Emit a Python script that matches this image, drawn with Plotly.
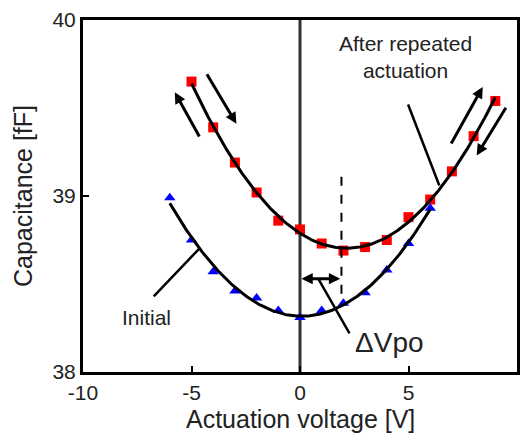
import numpy as np
import plotly.graph_objects as go

# Data
red_x = [-5, -4, -3, -2, -1, 0, 1, 2, 3, 4, 5, 6, 7, 8, 9]
red_y = [39.65, 39.39, 39.19, 39.02, 38.86, 38.81, 38.73, 38.69, 38.71, 38.75,
         38.88, 38.98, 39.14, 39.34, 39.54]
blue_x = [-6, -5, -4, -3, -2, -1, 0, 1, 2, 3, 4, 5, 6]
blue_y = [38.99, 38.75, 38.57, 38.46, 38.42, 38.35, 38.31, 38.35, 38.39, 38.45,
          38.58, 38.73, 38.93]

x_ticks = [-10, -5, 0, 5, 10]
y_ticks = [38, 39, 40]

FONT = "Arial, Liberation Sans, sans-serif"

# quadratic fits of the measured points
red_fit = np.polyfit(red_x, red_y, 2)
blue_fit = np.polyfit(blue_x, blue_y, 2)
red_fx = np.linspace(min(red_x), max(red_x), 200)
blue_fx = np.linspace(min(blue_x), max(blue_x), 200)

fig = go.Figure()
fig.add_trace(go.Scatter(x=red_x, y=red_y, mode="markers",
                         marker=dict(symbol="square", size=10, color="#ff0000"),
                         showlegend=False))
fig.add_trace(go.Scatter(x=blue_x, y=blue_y, mode="markers",
                         marker=dict(symbol="triangle-up", size=10, color="#0000ff"),
                         showlegend=False))
fig.add_trace(go.Scatter(x=red_fx, y=np.polyval(red_fit, red_fx), mode="lines",
                         line=dict(color="black", width=3), showlegend=False))
fig.add_trace(go.Scatter(x=blue_fx, y=np.polyval(blue_fit, blue_fx), mode="lines",
                         line=dict(color="black", width=3), showlegend=False))

shapes = [
    dict(type="line", x0=0, x1=0, y0=38, y1=40, xref="x", yref="y",
         line=dict(color="#333333", width=3), layer="below"),
    dict(type="line", x0=1.91, x1=1.91, y0=39.11, y1=38.39, xref="x", yref="y",
         line=dict(color="black", width=2, dash="dash")),
    # leader lines
    dict(type="line", x0=4.98, y0=39.52, x1=6.42, y1=39.06, xref="x", yref="y",
         line=dict(color="black", width=2.5)),
    dict(type="line", x0=-6.74, y0=38.43, x1=-4.65, y1=38.70, xref="x", yref="y",
         line=dict(color="black", width=2.5)),
    dict(type="line", x0=0.84, y0=38.53, x1=2.28, y1=38.22, xref="x", yref="y",
         line=dict(color="black", width=2.5)),
]

def arrow(tx, ty, hx, hy, side="end"):
    return dict(x=hx, y=hy, ax=tx, ay=ty, xref="x", yref="y", axref="x", ayref="y",
                text="", showarrow=True, arrowhead=2, arrowsize=0.75, arrowwidth=3,
                arrowcolor="black", arrowside=side)

annotations = [
    arrow(-4.6, 39.33, -5.77, 39.59),
    arrow(-4.33, 39.70, -2.93, 39.41),
    arrow(6.93, 39.29, 8.42, 39.62),
    arrow(9.53, 39.51, 8.14, 39.23),
    arrow(0.0, 38.53, 1.85, 38.53, side="end+start"),
    dict(x=4.85, y=39.79, xref="x", yref="y", text="After repeated<br>actuation",
         showarrow=False, font=dict(family=FONT, size=21, color="#222222"),
         xanchor="center", yanchor="middle"),
    dict(x=-7.07, y=38.31, xref="x", yref="y", text="Initial", showarrow=False,
         font=dict(family=FONT, size=21, color="#222222"),
         xanchor="center", yanchor="middle"),
    dict(x=4.14, y=38.17, xref="x", yref="y", text="ΔVpo", showarrow=False,
         font=dict(family=FONT, size=28, color="#222222"),
         xanchor="center", yanchor="middle"),
    dict(x=0, y=0.5, xref="paper", yref="paper", xshift=-60, text="Capacitance [fF]",
         textangle=-90, showarrow=False, xanchor="center", yanchor="middle",
         font=dict(family=FONT, size=25, color="#222222")),
    dict(x=0.5, y=0, xref="paper", yref="paper", yshift=-47, text="Actuation voltage [V]",
         showarrow=False, xanchor="center", yanchor="middle",
         font=dict(family=FONT, size=25, color="#222222")),
]

axis_common = dict(showline=True, mirror=True, linecolor="black", linewidth=3,
                   ticks="inside", ticklen=6, tickwidth=2, tickcolor="black",
                   showgrid=False, zeroline=False,
                   tickfont=dict(family=FONT, size=21, color="#222222"))

fig.update_layout(
    width=528, height=437,
    margin=dict(l=83, r=8, t=15, b=65),
    paper_bgcolor="white", plot_bgcolor="white",
    xaxis=dict(range=[-10, 10], tickvals=x_ticks, ticktext=[str(v) for v in x_ticks],
               **axis_common),
    yaxis=dict(range=[38, 40], tickvals=y_ticks, ticktext=[str(v) for v in y_ticks],
               **axis_common),
    shapes=shapes,
    annotations=annotations,
    showlegend=False,
)

fig.write_html("out.html")
